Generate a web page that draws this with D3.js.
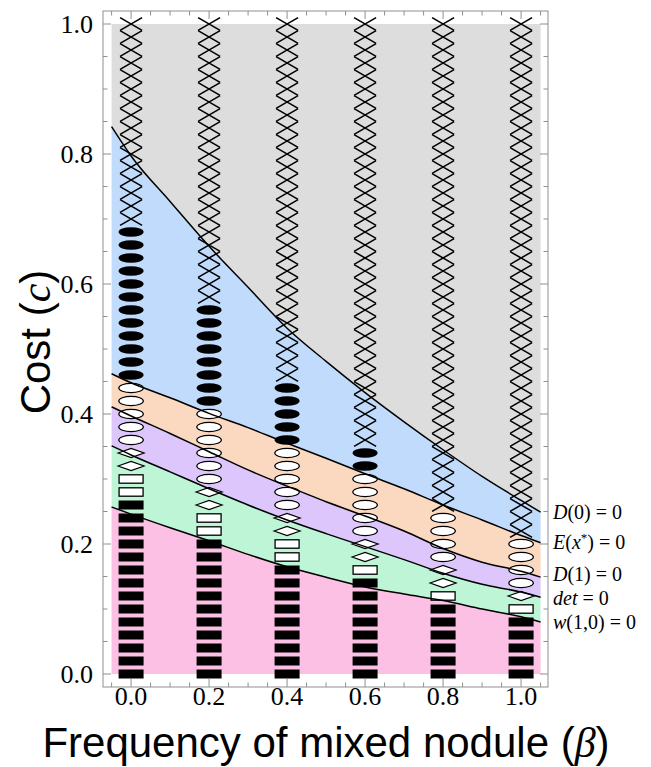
<!DOCTYPE html>
<html>
<head>
<meta charset="utf-8">
<script src="https://cdn.jsdelivr.net/npm/d3@7"></script>
<style>
  html, body { margin: 0; padding: 0; background: #fff; }
  svg { display: block; }
</style>
</head>
<body>
<svg id="chart" width="651" height="767"></svg>
<script>
// ---------------- DATA ----------------
const betaGrid = [-0.05, 0, 0.1, 0.2, 0.3, 0.4, 0.5, 0.6, 0.7, 0.8, 0.9, 1.0, 1.05];
const curveD0  = [0.842, 0.797, 0.727, 0.658, 0.595, 0.532, 0.481, 0.433, 0.388, 0.345, 0.304, 0.267, 0.249];
const curveE   = [0.462, 0.448, 0.425, 0.401, 0.379, 0.355, 0.332, 0.308, 0.285, 0.260, 0.237, 0.213, 0.202];
const curveD1  = [0.411, 0.397, 0.370, 0.342, 0.314, 0.289, 0.265, 0.243, 0.220, 0.193, 0.172, 0.158, 0.149];
const curveDet = [0.351, 0.337, 0.311, 0.285, 0.260, 0.237, 0.216, 0.196, 0.176, 0.155, 0.138, 0.126, 0.118];
const curveW   = [0.257, 0.246, 0.225, 0.205, 0.184, 0.165, 0.149, 0.134, 0.123, 0.113, 0.100, 0.088, 0.080];

const curveLabels = ["D(0) = 0", "E(x*) = 0", "D(1) = 0", "det = 0", "w(1,0) = 0"];
// cost level at which each right-side label sits
const labelCosts = [0.249, 0.202, 0.154, 0.117, 0.080];

// marker columns (beta) and cost levels (top to bottom)
const markerBetas = [0.0, 0.2, 0.4, 0.6, 0.8, 1.0];
const costLevels = [1.00, 0.98, 0.96, 0.94, 0.92, 0.90, 0.88, 0.86, 0.84, 0.82,
                    0.80, 0.78, 0.76, 0.74, 0.72, 0.70, 0.68, 0.66, 0.64, 0.62,
                    0.60, 0.58, 0.56, 0.54, 0.52, 0.50, 0.48, 0.46, 0.44, 0.42,
                    0.40, 0.38, 0.36, 0.34, 0.32, 0.30, 0.28, 0.26, 0.24, 0.22,
                    0.20, 0.18, 0.16, 0.14, 0.12, 0.10, 0.08, 0.06, 0.04, 0.02, 0.00];
// run lengths of marker types in each column, from top (c = 1) down
const crossCounts         = [16, 22, 28, 33, 38, 40];
const filledEllipseCounts = [12,  8,  5,  2,  0,  0];
const openEllipseCounts   = [ 5,  6,  5,  5,  4,  4];
const diamondCounts       = [ 2,  2,  2,  2,  2,  1];
const openRectCounts      = [ 2,  2,  2,  1,  1,  1];
const filledRectCounts    = [14, 11,  9,  8,  6,  5];

const xTicks = [0.0, 0.2, 0.4, 0.6, 0.8, 1.0];
const yTicks = [0.0, 0.2, 0.4, 0.6, 0.8, 1.0];
const xTickLabels = ["0.0", "0.2", "0.4", "0.6", "0.8", "1.0"];
const yTickLabels = ["0.0", "0.2", "0.4", "0.6", "0.8", "1.0"];

// ---------------- DRAW ----------------
const svg = d3.select("#chart");
const frame = {left: 103, right: 548, top: 11, bottom: 687};
const x = d3.scaleLinear().domain([-0.072, 1.069]).range([frame.left, frame.right]);
const y = d3.scaleLinear().domain([-0.02, 1.02]).range([frame.bottom, frame.top]);

const colors = {
  gray:   "#dddddd",
  blue:   "#c0dbfb",
  peach:  "#fbd8c0",
  purple: "#dcc6fb",
  green:  "#bff5d7",
  pink:   "#fbc0e3"
};

const rows = betaGrid.map((b, i) => ({b, d0: curveD0[i], e: curveE[i], d1: curveD1[i], det: curveDet[i], w: curveW[i]}));
const curve = d3.curveMonotoneX;
function band(lo, hi, fill) {
  const area = d3.area().curve(curve)
    .x(d => x(d.b))
    .y0(d => y(typeof lo === "number" ? lo : d[lo]))
    .y1(d => y(typeof hi === "number" ? hi : d[hi]));
  svg.append("path").datum(rows).attr("d", area).attr("fill", fill).attr("stroke", "none");
}
band("d0", 1.0, colors.gray);
band("e", "d0", colors.blue);
band("d1", "e", colors.peach);
band("det", "d1", colors.purple);
band("w", "det", colors.green);
band(0.0, "w", colors.pink);

// markers
const mg = svg.append("g");
markerBetas.forEach((b, ci) => {
  const runs = [
    ["cross", crossCounts[ci]],
    ["fellipse", filledEllipseCounts[ci]],
    ["oellipse", openEllipseCounts[ci]],
    ["diamond", diamondCounts[ci]],
    ["orect", openRectCounts[ci]],
    ["frect", filledRectCounts[ci]]
  ];
  let k = 0;
  runs.forEach(([type, n]) => {
    for (let j = 0; j < n; j++, k++) {
      const cx = x(b), cy = y(costLevels[k]);
      if (type === "cross") {
        const hw = 11, hh = 6.4;
        mg.append("path")
          .attr("d", `M${cx-hw},${cy-hh}L${cx+hw},${cy+hh}M${cx-hw},${cy+hh}L${cx+hw},${cy-hh}`)
          .attr("stroke", "#000").attr("stroke-width", 1.6).attr("fill", "none");
      } else if (type === "fellipse") {
        mg.append("ellipse").attr("cx", cx).attr("cy", cy).attr("rx", 12.5).attr("ry", 4.8)
          .attr("fill", "#000");
      } else if (type === "oellipse") {
        mg.append("ellipse").attr("cx", cx).attr("cy", cy).attr("rx", 12.3).attr("ry", 4.6)
          .attr("fill", "#fff").attr("stroke", "#000").attr("stroke-width", 1.2);
      } else if (type === "diamond") {
        mg.append("path").attr("d", `M${cx-13},${cy}L${cx},${cy-4.6}L${cx+13},${cy}L${cx},${cy+4.6}Z`)
          .attr("fill", "#fff").attr("stroke", "#000").attr("stroke-width", 1.2);
      } else if (type === "orect") {
        mg.append("rect").attr("x", cx-12).attr("y", cy-4.2).attr("width", 24).attr("height", 8.4)
          .attr("fill", "#fff").attr("stroke", "#000").attr("stroke-width", 1.3);
      } else if (type === "frect") {
        mg.append("rect").attr("x", cx-12.5).attr("y", cy-4.5).attr("width", 25).attr("height", 9)
          .attr("fill", "#000");
      }
    }
  });
});

// boundary curves
["d0", "e", "d1", "det", "w"].forEach(key => {
  const line = d3.line().curve(curve).x(d => x(d.b)).y(d => y(d[key]));
  svg.append("path").datum(rows).attr("d", line).attr("fill", "none")
    .attr("stroke", "#000").attr("stroke-width", 1.5);
});

// frame
const frameColor = "#8f8f8f";
svg.append("rect").attr("x", frame.left).attr("y", frame.top)
  .attr("width", frame.right - frame.left).attr("height", frame.bottom - frame.top)
  .attr("fill", "none").attr("stroke", frameColor).attr("stroke-width", 1);

// ticks (inward, all four sides)
const xMinor = d3.range(-1, 22).map(i => +(i * 0.05).toFixed(2));
const yMinor = d3.range(0, 21).map(i => +(i * 0.05).toFixed(2));
const tg = svg.append("g").attr("stroke", frameColor).attr("stroke-width", 1);
xMinor.forEach(v => {
  const major = xTicks.some(t => Math.abs(t - v) < 1e-6);
  const len = major ? 8 : 4.5;
  tg.append("line").attr("x1", x(v)).attr("x2", x(v)).attr("y1", frame.bottom).attr("y2", frame.bottom - len);
  tg.append("line").attr("x1", x(v)).attr("x2", x(v)).attr("y1", frame.top).attr("y2", frame.top + len);
});
yMinor.forEach(v => {
  const major = yTicks.some(t => Math.abs(t - v) < 1e-6);
  const len = major ? 8 : 4.5;
  tg.append("line").attr("y1", y(v)).attr("y2", y(v)).attr("x1", frame.left).attr("x2", frame.left + len);
  tg.append("line").attr("y1", y(v)).attr("y2", y(v)).attr("x1", frame.right).attr("x2", frame.right - len);
});

// tick labels
const serif = "'Liberation Serif', 'Times New Roman', serif";
const sans = "'Liberation Sans', Arial, Helvetica, sans-serif";
xTicks.forEach((v, i) => {
  svg.append("text").attr("x", x(v)).attr("y", 705).attr("text-anchor", "middle")
    .attr("font-family", serif).attr("font-size", 26).attr("fill", "#000").text(xTickLabels[i]);
});
yTicks.forEach((v, i) => {
  svg.append("text").attr("x", 93).attr("y", y(v)).attr("dy", "0.34em").attr("text-anchor", "end")
    .attr("font-family", serif).attr("font-size", 26).attr("fill", "#000").text(yTickLabels[i]);
});

// right-side curve labels
const labelKeys = ["d0", "e", "d1", "det", "w"];
labelKeys.forEach((key, i) => {
  const t = svg.append("text").attr("x", 553).attr("y", y(labelCosts[i])).attr("dy", "0.33em")
    .attr("font-family", serif).attr("font-size", 20).attr("fill", "#000");
  if (key === "d0") {
    t.append("tspan").attr("font-style", "italic").text("D");
    t.append("tspan").text("(0) = 0");
  } else if (key === "e") {
    t.append("tspan").attr("font-style", "italic").text("E");
    t.append("tspan").text("(");
    t.append("tspan").attr("font-style", "italic").text("x");
    t.append("tspan").attr("font-size", 13).attr("dy", "-0.55em").text("*");
    t.append("tspan").attr("dy", "0.36em").text(") = 0");
  } else if (key === "d1") {
    t.append("tspan").attr("font-style", "italic").text("D");
    t.append("tspan").text("(1) = 0");
  } else if (key === "det") {
    t.append("tspan").attr("font-style", "italic").text("det");
    t.append("tspan").text(" = 0");
  } else {
    t.append("tspan").attr("font-style", "italic").text("w");
    t.append("tspan").text("(1,0) = 0");
  }
});

// axis titles
const xt = svg.append("text").attr("x", 326).attr("y", 757).attr("text-anchor", "middle")
  .attr("font-family", sans).attr("font-size", 42).attr("fill", "#000");
xt.append("tspan").text("Frequency of mixed nodule (");
xt.append("tspan").attr("font-style", "italic").attr("font-family", serif).text("β");
xt.append("tspan").text(")");

const yt = svg.append("text").attr("transform", "translate(50,342) rotate(-90)").attr("text-anchor", "middle")
  .attr("font-family", sans).attr("font-size", 42).attr("fill", "#000");
yt.append("tspan").text("Cost (");
yt.append("tspan").attr("font-style", "italic").attr("font-family", serif).text("c");
yt.append("tspan").text(")");
</script>
</body>
</html>
